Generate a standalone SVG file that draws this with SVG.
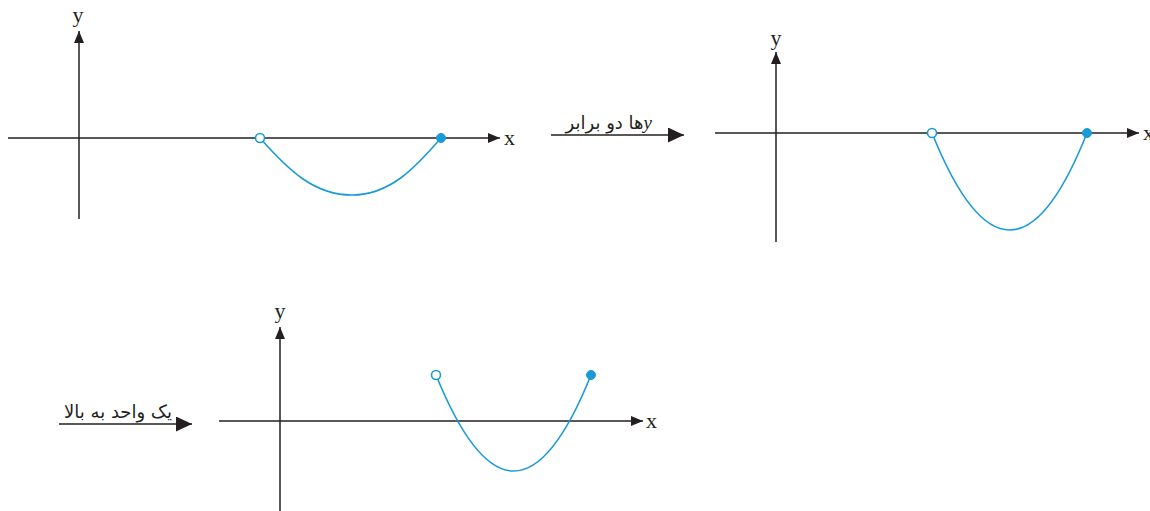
<svg xmlns="http://www.w3.org/2000/svg" width="1150" height="511" viewBox="0 0 1150 511">
<style>
.ax{stroke:#231f20;stroke-width:1.5;fill:none}
.axa{stroke:#231f20;stroke-width:1.5;fill:none;marker-end:url(#ah)}
.cv{stroke:#1a9bd7;stroke-width:1.6;fill:none}
.op{fill:#fff;stroke:#1a9bd7;stroke-width:1.6}
.fl{fill:#1a9bd7;stroke:#1a9bd7;stroke-width:1}
.lb{font-family:'Liberation Serif','Times New Roman',serif;font-size:22px;fill:#231f20}
.fa{font-family:'DejaVu Sans','Noto Sans',sans-serif;font-size:18px;fill:#231f20}
.con{stroke:#231f20;stroke-width:1.5;fill:none;marker-end:url(#ch)}
</style>
<defs>
<marker id="ah" markerUnits="userSpaceOnUse" markerWidth="13" markerHeight="11" refX="12" refY="5" orient="auto">
<path d="M0,0 L12,5 L0,10 z" fill="#231f20"/>
</marker>
<marker id="ch" markerUnits="userSpaceOnUse" markerWidth="17" markerHeight="16" refX="16" refY="7.5" orient="auto">
<path d="M0,0 L16,7.5 L0,15 z" fill="#231f20"/>
</marker>
</defs>

<g id="graph1">
<path class="axa" d="M79,219 L79,31"/>
<path class="axa" d="M8,138 L500,138"/>
<text class="lb" x="78" y="22" text-anchor="middle">y</text>
<text class="lb" x="504" y="145">x</text>
<path class="cv" d="M260,138 C290,172 315,195 352,195 C390,195 415,168 441,138"/>
<circle class="op" cx="260" cy="138" r="4.5"/>
<circle class="fl" cx="441" cy="138" r="4.5"/>
</g>

<g id="graph2">
<path class="axa" d="M776,242 L776,52"/>
<path class="axa" d="M715,133 L1139,133"/>
<text class="lb" x="776" y="45" text-anchor="middle">y</text>
<text class="lb" x="1143" y="140">x</text>
<path class="cv" d="M932,133 Q1010,327 1087,133"/>
<circle class="op" cx="932" cy="133" r="4.5"/>
<circle class="fl" cx="1087" cy="133" r="4.5"/>
</g>

<g id="graph3">
<path class="axa" d="M280,511 L280,327"/>
<path class="axa" d="M219,421 L643,421"/>
<text class="lb" x="280" y="318" text-anchor="middle">y</text>
<text class="lb" x="646" y="428">x</text>
<path class="cv" d="M436,375 Q514,567 591,375"/>
<circle class="op" cx="436" cy="375" r="4.5"/>
<circle class="fl" cx="591" cy="375" r="4.5"/>
</g>

<g id="connectors">
<path class="con" d="M551,135 L684,135"/>
<text class="fa" x="652" y="129" direction="rtl" text-anchor="start"><tspan font-family="'Liberation Serif',serif" font-style="italic" font-size="19">y</tspan>ها دو برابر</text>
<path class="con" d="M59,424 L192,424"/>
<text class="fa" x="172" y="418" direction="rtl" text-anchor="start">یک واحد به بالا</text>
</g>
</svg>
